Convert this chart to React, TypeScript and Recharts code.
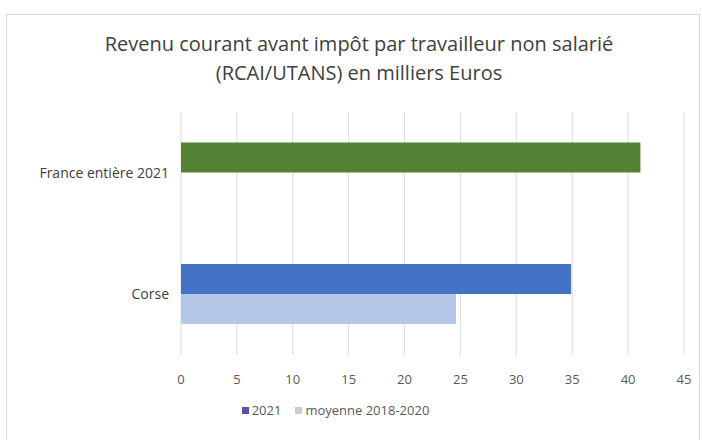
import React from 'react';
import { BarChart, Bar, XAxis, YAxis, CartesianGrid, Legend, Cell } from 'recharts';

const categories = ['France entière 2021', 'Corse'];
const values2021 = [41.1, 34.9];
const valuesMoyenne = [null, 24.6];
const xTicks = [0, 5, 10, 15, 20, 25, 30, 35, 40, 45];
const seriesNames = ['2021', 'moyenne 2018-2020'];
const barColors2021 = ['#548235', '#4472C4'];

const data = categories.map((c, i) => ({ name: c, y2021: values2021[i], moy: valuesMoyenne[i] }));

const FONT = '"Open Sans", "Noto Sans", sans-serif';

const LegendContent = () => (
  <div style={{ display: 'flex', justifyContent: 'center', alignItems: 'center', fontFamily: FONT, fontSize: 13, color: '#595959', marginLeft: -13, paddingTop: 6 }}>
    <span style={{ display: 'inline-block', width: 7, height: 7, background: '#5b4fa8', marginRight: 3 }} />
    <span style={{ marginRight: 14 }}>{seriesNames[0]}</span>
    <span style={{ display: 'inline-block', width: 7, height: 7, background: '#c8ccd8', marginRight: 3 }} />
    <span>{seriesNames[1]}</span>
  </div>
);

export default function App() {
  return (
    <div style={{ position: 'absolute', left: 0, top: 0, width: 702, height: 440, background: '#fff' }}>
      <div style={{ position: 'absolute', left: 6, top: 14, width: 694, height: 430, border: '1px solid #d9d9d9', boxSizing: 'border-box' }} />
      <div style={{ position: 'absolute', left: 0, top: 29, width: 718, textAlign: 'center', fontFamily: FONT, fontSize: 20, lineHeight: '29px', color: '#404040' }}>
        Revenu courant avant impôt par travailleur non salarié<br />(RCAI/UTANS) en milliers Euros
      </div>
      <div style={{ position: 'absolute', left: 0, top: 0 }}>
        <BarChart
          width={702}
          height={440}
          data={data}
          layout="vertical"
          margin={{ top: 112, right: 18, left: 0, bottom: 20 }}
          barCategoryGap="25%"
          barGap={0}
        >
          <CartesianGrid horizontal={false} vertical stroke="#dcdcdc" />
          <XAxis
            type="number"
            domain={[0, 45]}
            ticks={xTicks}
            axisLine={false}
            tickLine={false}
            tick={{ fill: '#595959', fontSize: 13, fontFamily: FONT }}
            tickMargin={14}
            height={40}
          />
          <YAxis
            type="category"
            dataKey="name"
            width={181}
            axisLine={false}
            tickLine={false}
            tick={{ fill: '#404040', fontSize: 14, fontFamily: FONT }}
            tickMargin={6}
          />
          <Legend verticalAlign="bottom" height={25} content={LegendContent} />
          <Bar dataKey="y2021" name={seriesNames[0]} fill="#4472C4" isAnimationActive={false}>
            {data.map((d, i) => (
              <Cell key={i} fill={barColors2021[i]} />
            ))}
          </Bar>
          <Bar dataKey="moy" name={seriesNames[1]} fill="#b4c7e7" isAnimationActive={false} />
        </BarChart>
      </div>
    </div>
  );
}
